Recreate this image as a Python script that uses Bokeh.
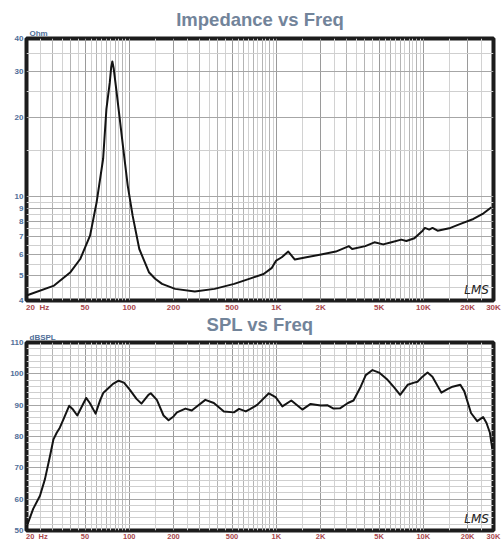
from bokeh.plotting import figure
from bokeh.models import FixedTicker, Grid, Label, Title
from bokeh.layouts import column
from bokeh.embed import file_html
from bokeh.resources import INLINE

# ---- data ----
imp_freq = [20, 30.8, 39.8, 46.4, 54.1, 60, 66.4, 69.9, 73.7, 75.3, 76.7, 78.3, 81.5, 91.4,
            97.6, 105.4, 117, 136, 150, 167, 205, 279, 380, 517, 669, 820, 933, 998, 1089,
            1206, 1337, 1600, 2015, 2540, 3118, 3280, 4030, 4647, 5335, 6068, 7077, 7660,
            8690, 9886, 10240, 10960, 11540, 12500, 15280, 17890, 21900, 25680, 29060]
imp_ohm = [4.18, 4.56, 5.13, 5.76, 7.07, 9.5, 13.9, 21.5, 27.2, 31.0, 32.7, 30.8, 25.7, 14.9,
           10.98, 8.43, 6.29, 5.13, 4.84, 4.63, 4.43, 4.33, 4.43, 4.63, 4.86, 5.05, 5.33, 5.68,
           5.85, 6.15, 5.73, 5.85, 5.99, 6.15, 6.45, 6.29, 6.45, 6.67, 6.55, 6.67, 6.83, 6.75,
           6.91, 7.39, 7.57, 7.46, 7.57, 7.39, 7.57, 7.84, 8.19, 8.61, 9.08]

spl_freq = [20, 22.2, 24.7, 26.7, 28.9, 30.5, 32.1, 33.7, 35.6, 39.0, 41.1, 44.3, 50.9, 53.9,
            59.0, 63.5, 66.7, 72, 77.5, 84.6, 92, 101, 112, 121, 135, 140, 154, 171, 185, 200,
            211, 241, 266, 288, 329, 376, 440, 515, 558, 620, 667, 741, 890, 988, 1099, 1265,
            1503, 1712, 2005, 2220, 2450, 2710, 3070, 3350, 3750, 4060, 4510, 5000, 5710, 6330,
            6950, 7820, 8660, 9120, 9870, 10680, 11530, 13260, 14600, 15800, 17850, 19000,
            21100, 23230, 25500, 26890, 28360, 29470]
spl_db = [51.1, 56.9, 61.1, 66.4, 73.8, 79.1, 81.2, 82.8, 85.4, 89.8, 88.8, 86.7, 92.3, 90.7,
          87.3, 91.7, 94.0, 95.4, 96.8, 97.8, 97.2, 94.9, 92.0, 90.5, 93.3, 93.8, 91.7, 86.7,
          85.2, 86.4, 87.7, 88.9, 88.3, 89.6, 91.7, 90.7, 88.0, 87.7, 88.8, 88.0, 88.8, 90.1,
          93.8, 92.6, 89.6, 91.5, 88.6, 90.4, 89.9, 90.0, 88.9, 89.0, 90.7, 91.5, 95.9, 99.6,
          101.2, 100.4, 98.1, 95.7, 93.3, 96.5, 97.2, 97.5, 99.1, 100.4, 99.1, 94.0, 95.1,
          95.9, 96.5, 94.4, 87.5, 84.9, 86.2, 84.3, 81.2, 75.9]

NB = "\u00a0"
x_tick_values = [20, 50, 100, 200, 500, 1000, 2000, 5000, 10000, 20000, 30000]
x_tick_labels = [NB * 10 + "20" + NB * 2 + "Hz", "50", "100", "200", "500", "1K", "2K", "5K",
                 "10K", "20K", "30K"]
imp_ticks = [4, 5, 6, 7, 8, 9, 10, 20, 30, 40]
spl_ticks = [50, 60, 70, 80, 90, 100, 110]

TITLE_C = "#72849a"
YLAB_C = "#4f6e98"
XLAB_C = "#a8474c"
FONT = "Liberation Sans"

# grid line positions
decades = [10, 100, 1000, 10000]
x_major_grid = [20, 50, 100, 200, 500, 1000, 2000, 5000, 10000, 20000]
x_mid_grid = [d * m for d in decades for m in (3, 4, 6, 7, 8, 9) if 20 <= d * m <= 30000]
x_light_grid = [d * m for d in decades for m in (1.5, 2.5, 3.5, 4.5, 5.5, 6.5, 7.5, 8.5, 9.5)
                if 20 < d * m < 30000]


def make_fig(height, title, ylo, yhi, yticks, ylight, ylog, b_left, b_right, b_top,
             title_standoff, unit_standoff, unit, xfont, xstandoff, freq, vals, lms_y):
    p = figure(width=502, height=height, output_backend="svg", toolbar_location=None,
               title=None,
               x_axis_type="log", y_axis_type="log" if ylog else "linear",
               x_range=(20, 30000), y_range=(ylo, yhi),
               min_border_left=b_left, min_border_right=b_right, min_border_top=b_top,
               min_border_bottom=0)
    p.add_layout(Title(text=unit, align="left", offset=3, standoff=unit_standoff,
                       text_font=FONT, text_font_style="bold", text_font_size="8px",
                       text_color=YLAB_C), "above")
    p.add_layout(Title(text=title, align="center", standoff=title_standoff, text_font=FONT,
                       text_font_style="bold", text_font_size="18.5px", text_color=TITLE_C),
                 "above")
    p.outline_line_color = "#1c1c1c"
    p.outline_line_width = 4
    p.background_fill_color = "white"
    p.border_fill_color = "white"
    p.xgrid.grid_line_color = None
    p.ygrid.grid_line_color = None

    for ticks, col in ((x_light_grid, "#d2d2d2"), (x_mid_grid, "#b4b4b4"), (x_major_grid, "#9a9a9a")):
        p.add_layout(Grid(dimension=0, ticker=FixedTicker(ticks=ticks), grid_line_color=col,
                          grid_line_width=1))
    for ticks, col in ((ylight, "#cfcfcf"), (yticks, "#a6a6a6")):
        p.add_layout(Grid(dimension=1, ticker=FixedTicker(ticks=ticks), grid_line_color=col,
                          grid_line_width=1))

    for ax in (p.xaxis[0], p.yaxis[0]):
        ax.axis_line_color = None
        ax.major_tick_line_color = None
        ax.minor_tick_line_color = None
        ax.major_tick_out = 0
        ax.major_tick_in = 0
        ax.minor_tick_out = 0
        ax.minor_tick_in = 0
        ax.major_label_text_font = FONT
        ax.major_label_text_font_style = "bold"
        ax.axis_label = None
    p.xaxis.ticker = FixedTicker(ticks=x_tick_values)
    p.xaxis.major_label_overrides = dict(zip(x_tick_values, x_tick_labels))
    p.xaxis.major_label_text_color = XLAB_C
    p.xaxis.major_label_text_font_size = xfont
    p.xaxis.major_label_standoff = xstandoff
    p.yaxis.ticker = FixedTicker(ticks=yticks)
    p.yaxis.major_label_overrides = {t: str(t) for t in yticks}
    p.yaxis.major_label_text_color = YLAB_C
    p.yaxis.major_label_text_font_size = "8px"
    p.yaxis.major_label_standoff = 3

    p.line(freq, vals, line_width=2, line_color="#141414", line_join="round")

    p.add_layout(Label(x=19000, y=lms_y, text="LMS", text_baseline="bottom", text_align="left",
                       text_font="DejaVu Sans", text_font_style="italic", text_font_size="12px",
                       text_color="#222222"))
    return p


imp_light = [4.5, 5.5, 6.5, 7.5, 8.5, 9.5, 15, 25, 35]
spl_light = [v for v in range(52, 110, 2) if v % 10]

p1 = make_fig(314, "Impedance vs Freq", 4, 40, imp_ticks, imp_light, True, 22, 6, 38, -6, 1,
              "Ohm", "8px", 2, imp_freq, imp_ohm, 4.12)
p2 = make_fig(229, "SPL vs Freq", 50, 110, spl_ticks, spl_light, False, 26, 9, 28, -9, 1,
              "dBSPL", "7.5px", 1, spl_freq, spl_db, 51.5)

layout = column(p1, p2)
open("out.html", "w").write(file_html(layout, INLINE))
